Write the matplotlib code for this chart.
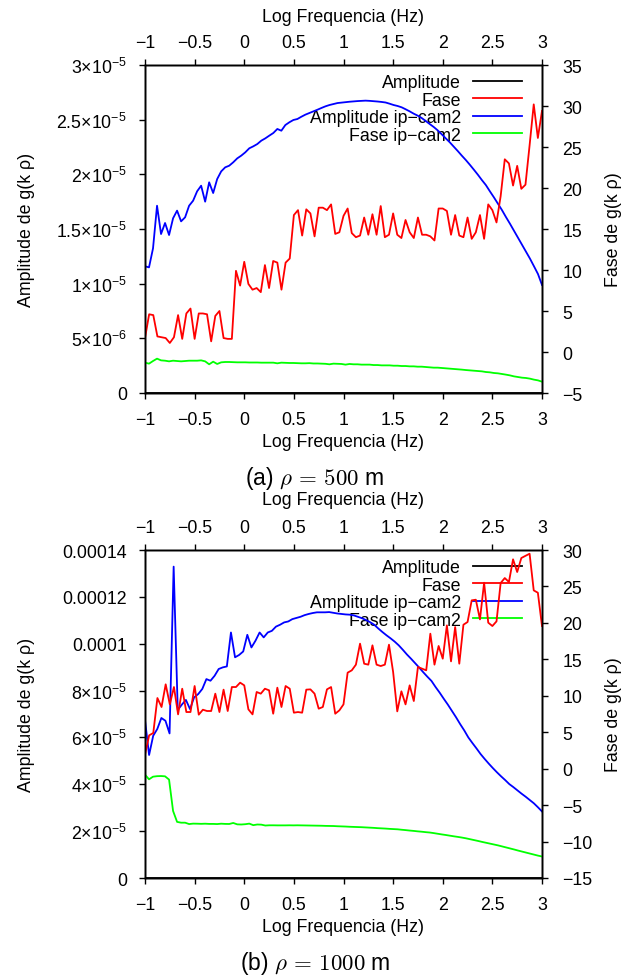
import numpy as np
import matplotlib
matplotlib.use("Agg")
import matplotlib.pyplot as plt

plt.rcParams['font.family'] = ['Liberation Sans', 'DejaVu Sans']
plt.rcParams['mathtext.fontset'] = 'custom'
plt.rcParams['mathtext.rm'] = 'Liberation Sans'
plt.rcParams['mathtext.it'] = 'Liberation Sans:italic'
plt.rcParams['mathtext.bf'] = 'Liberation Sans:bold'

# ---------------- data ----------------
# x axis: log10 of frequency, evenly sampled from -1 to 3 for each series
x_min, x_max = -1.0, 3.0

# Panel (a): rho = 500 m
amplitude_a = [0.0, 0.0, 0.0, 0.0, 0.0, 0.0, 0.0, 0.0, 0.0]
fase_a = [1.7, 4.6, 4.5, 1.9, 1.8, 1.7, 1.1, 1.8, 4.5, 1.6, 4.7, 5.3, 1.6, 4.7, 4.7, 4.6,
          1.3, 4.4, 5.0, 1.7, 1.6, 1.6, 9.9, 8.1, 11.0, 8.3, 7.6, 7.8, 7.3, 10.6, 7.8, 11.1,
          10.9, 7.6, 10.9, 11.4, 16.7, 17.3, 14.2, 17.4, 16.9, 14.1, 17.6, 17.6, 17.3, 18.0,
          14.4, 14.6, 16.6,
          17.5, 14.5, 14.0, 14.2, 16.4, 14.3, 16.8, 14.3, 17.8, 14.0, 14.3, 16.9, 14.3, 13.9,
          16.1, 14.6, 13.9, 16.4, 14.3, 14.3, 14.1, 13.6, 17.5, 17.5, 17.2, 14.3, 16.7, 14.2,
          14.0, 16.4, 13.8, 14.6, 16.7, 13.8, 18.0, 17.3, 15.8, 19.0, 23.5, 23.0, 20.3, 22.7,
          19.9, 20.4, 25.2, 30.2, 26.1, 29.4]
amp_ipcam2_a_e5 = [1.159, 1.149, 1.323, 1.713, 1.454, 1.555, 1.445, 1.598, 1.668, 1.570,
                   1.607, 1.713, 1.759, 1.845, 1.896, 1.750, 1.927, 1.829, 1.957, 2.027,
                   2.064, 2.079, 2.110, 2.146, 2.171, 2.201, 2.238, 2.256, 2.277, 2.308,
                   2.329, 2.354, 2.378, 2.415, 2.399, 2.451, 2.476, 2.497, 2.506, 2.527,
                   2.546, 2.561, 2.576, 2.591, 2.607, 2.622, 2.634, 2.643, 2.652, 2.656,
                   2.660, 2.664, 2.667, 2.670, 2.672, 2.674, 2.672, 2.669, 2.666, 2.662,
                   2.657, 2.646, 2.634, 2.625, 2.613, 2.595, 2.576, 2.555, 2.537, 2.515,
                   2.488, 2.460, 2.433, 2.402, 2.366, 2.329, 2.293, 2.253, 2.213, 2.171,
                   2.131, 2.088, 2.043, 1.997, 1.948, 1.902, 1.845, 1.790, 1.732, 1.674,
                   1.610, 1.549, 1.485, 1.421, 1.357, 1.293, 1.229, 1.159, 1.088, 0.988]
fase_ipcam2_a = [-1.30, -1.42, -1.10, -0.81, -1.02, -1.06, -1.14, -1.06, -1.10, -1.14,
                 -1.10, -1.06, -1.06, -1.06, -1.02, -1.14, -1.50, -1.18, -1.46, -1.26,
                 -1.22, -1.22, -1.24, -1.26, -1.26, -1.26, -1.28, -1.28, -1.28, -1.30,
                 -1.30, -1.30, -1.30, -1.38, -1.30, -1.32, -1.34, -1.34, -1.36, -1.38,
                 -1.38, -1.36, -1.40, -1.40, -1.42, -1.44, -1.50, -1.42, -1.44, -1.46,
                 -1.54, -1.46, -1.50, -1.50, -1.54, -1.54, -1.54, -1.59, -1.59, -1.63,
                 -1.63, -1.63, -1.67, -1.67, -1.71, -1.71, -1.75, -1.75, -1.79, -1.79,
                 -1.83, -1.87, -1.91, -1.91, -1.95, -1.99, -2.03, -2.07, -2.11, -2.15,
                 -2.20, -2.24, -2.28, -2.32, -2.36, -2.44, -2.48, -2.56, -2.60, -2.68,
                 -2.76, -2.85, -2.97, -3.05, -3.13, -3.17, -3.25, -3.37, -3.46, -3.62]

# Panel (b): rho = 1000 m
amplitude_b = [0.0, 0.0, 0.0, 0.0, 0.0, 0.0, 0.0, 0.0, 0.0]
fase_b = [1.92, 4.57, 4.89, 9.69, 8.46, 11.57, 8.82, 11.20, 7.45, 10.97,
          7.77, 7.77, 11.34, 7.41, 8.09, 7.91, 7.91, 10.29, 7.77, 10.84,
          7.91, 11.20, 11.20, 11.80, 11.43, 8.14, 7.45, 10.52, 10.29, 10.97,
          10.75, 7.54, 11.11, 8.46, 11.34, 10.97, 7.68, 7.77, 7.68, 10.84,
          10.88, 10.29, 8.23, 8.46, 10.88, 11.20, 7.54, 8.00, 8.82, 13.17,
          13.49, 14.27, 17.15, 14.40, 14.27, 16.92, 14.27, 14.08, 14.27, 17.01,
          13.26, 7.86, 10.61, 8.82, 11.43, 9.28, 13.95, 13.72, 13.49, 18.52,
          14.27, 16.83, 15.09, 19.66, 14.72, 19.43, 14.40, 19.75, 20.12, 23.09,
          23.18, 20.48, 25.51, 20.03, 19.57, 20.21, 25.47, 26.15, 25.61, 28.72,
          26.98, 28.90, 29.20, 29.49, 24.46, 24.14, 19.57]
amp_ipcam2_b_e5 = [6.74, 5.25, 6.07, 6.36, 6.83, 6.71, 6.17, 13.29, 7.17, 7.40,
                   7.60, 7.21, 7.71, 7.85, 8.07, 8.49, 8.42, 8.63, 8.92, 8.99,
                   9.03, 10.48, 9.42, 9.52, 9.67, 10.38, 9.84, 10.13, 10.48, 10.27,
                   10.48, 10.55, 10.73, 10.81, 10.91, 10.95, 11.05, 11.10, 11.15, 11.22,
                   11.27, 11.31, 11.34, 11.34, 11.34, 11.35, 11.32, 11.29, 11.27,
                   11.25, 11.24, 11.21, 11.15, 11.09, 11.01, 10.92, 10.81, 10.65, 10.50,
                   10.36, 10.23, 10.09, 9.93, 9.74, 9.54, 9.36, 9.17, 8.98, 8.78,
                   8.59, 8.41, 8.15, 7.91, 7.65, 7.40, 7.13, 6.86, 6.57, 6.30,
                   6.00, 5.76, 5.53, 5.29, 5.08, 4.88, 4.69, 4.51, 4.34, 4.18,
                   4.01, 3.88, 3.74, 3.60, 3.47, 3.33, 3.19, 3.02, 2.84]
fase_ipcam2_b = [-0.82, -1.46, -1.10, -1.03, -1.01, -1.05, -1.50, -5.80, -7.30, -7.41,
                 -7.41, -7.60, -7.54, -7.55, -7.57, -7.55, -7.58, -7.58, -7.60, -7.55,
                 -7.58, -7.59, -7.45, -7.64, -7.66, -7.62, -7.54, -7.75, -7.66, -7.68,
                 -7.80, -7.77, -7.77, -7.78, -7.78, -7.78, -7.77, -7.78, -7.77, -7.78,
                 -7.79, -7.80, -7.81, -7.82, -7.83, -7.85, -7.86, -7.87, -7.90, -7.92,
                 -7.94, -7.97, -7.99, -8.01, -8.03, -8.06, -8.09, -8.12, -8.16, -8.19,
                 -8.22, -8.26, -8.29, -8.32, -8.38, -8.43, -8.49, -8.54, -8.60, -8.65,
                 -8.71, -8.76, -8.84, -8.93, -9.02, -9.10, -9.19, -9.28, -9.36, -9.45,
                 -9.55, -9.67, -9.79, -9.91, -10.04, -10.16, -10.28, -10.40, -10.52, -10.66,
                 -10.80, -10.94, -11.08, -11.23, -11.37, -11.51, -11.65, -11.79, -11.93, -12.05]

# ticks / labels
x_ticks = [-1, -0.5, 0, 0.5, 1, 1.5, 2, 2.5, 3]
x_tick_labels = ['\u22121', '\u22120.5', '0', '0.5', '1', '1.5', '2', '2.5', '3']

amp_ticks_a = [0, 5e-6, 1e-5, 1.5e-5, 2e-5, 2.5e-5, 3e-5]
amp_labels_a = ['0', r'$5{\times}10^{-6}$', r'$1{\times}10^{-5}$', r'$1.5{\times}10^{-5}$',
                r'$2{\times}10^{-5}$', r'$2.5{\times}10^{-5}$', r'$3{\times}10^{-5}$']
phase_ticks_a = [-5, 0, 5, 10, 15, 20, 25, 30, 35]
phase_labels_a = ['\u22125', '0', '5', '10', '15', '20', '25', '30', '35']

amp_ticks_b = [0, 2e-5, 4e-5, 6e-5, 8e-5, 1e-4, 1.2e-4, 1.4e-4]
amp_labels_b = ['0', r'$2{\times}10^{-5}$', r'$4{\times}10^{-5}$', r'$6{\times}10^{-5}$',
                r'$8{\times}10^{-5}$', '0.0001', '0.00012', '0.00014']
phase_ticks_b = [-15, -10, -5, 0, 5, 10, 15, 20, 25, 30]
phase_labels_b = ['\u221215', '\u221210', '\u22125', '0', '5', '10', '15', '20', '25', '30']

legend_labels = ['Amplitude', 'Fase', 'Amplitude ip\u2212cam2', 'Fase ip\u2212cam2']
colors = ['#000000', '#ff0000', '#0000ff', '#00ff00']

# ---------------- figure ----------------
W, H = 630, 979
fig = plt.figure(figsize=(W / 100, H / 100), dpi=100)
FS = 12.8
LW = 1.3


def xs(series):
    return np.linspace(x_min, x_max, len(series))


def panel(top_px, amp, fase, amp2_e5, fase2, amp_ticks, amp_labels, ph_ticks, ph_labels,
          xlabel_top_px, xlabel_bot_px, caption_px, caption):
    left, right, bottom = 145, 542, top_px + 328
    ax = fig.add_axes([left / W, 1 - bottom / H, (right - left) / W, 328 / H])
    ax2 = ax.twinx()
    ax3 = ax.twiny()

    h1, = ax.plot(xs(amp), amp, color=colors[0], lw=LW)
    h3, = ax.plot(xs(amp2_e5), np.array(amp2_e5) * 1e-5, color=colors[2], lw=LW)
    h2, = ax2.plot(xs(fase), fase, color=colors[1], lw=LW)
    h4, = ax2.plot(xs(fase2), fase2, color=colors[3], lw=LW)

    ax.set_xlim(x_min, x_max)
    ax3.set_xlim(x_min, x_max)
    ax.set_ylim(amp_ticks[0], amp_ticks[-1])
    ax2.set_ylim(ph_ticks[0], ph_ticks[-1])

    ax.set_xticks(x_ticks)
    ax.set_xticklabels(x_tick_labels)
    ax3.set_xticks(x_ticks)
    ax3.set_xticklabels(x_tick_labels)
    ax.set_yticks(amp_ticks)
    ax.set_yticklabels(amp_labels)
    ax2.set_yticks(ph_ticks)
    ax2.set_yticklabels(ph_labels)

    for a in (ax, ax2, ax3):
        for s in a.spines.values():
            s.set_linewidth(1.0)
    ax.tick_params(axis='x', direction='out', length=4, width=1, labelsize=FS, pad=9)
    ax3.tick_params(axis='x', direction='out', length=4, width=1, labelsize=FS, pad=6)
    ax.tick_params(axis='y', direction='out', length=4, width=1, labelsize=FS, pad=9)
    ax2.tick_params(axis='y', direction='out', length=4, width=1, labelsize=FS, pad=10.5)

    leg = ax.legend([h1, h2, h3, h4], legend_labels, loc='upper right',
                    bbox_to_anchor=(1 - 20 / 397, 1 - 9 / 328), frameon=False,
                    markerfirst=False, fontsize=FS, handlelength=2.75,
                    handletextpad=0.67, labelspacing=0.03, borderpad=0,
                    borderaxespad=0)
    leg.set_zorder(1)

    cx = (left + right) / 2 / W
    fig.text(cx, 1 - xlabel_top_px / H, 'Log Frequencia (Hz)', ha='center', va='center', fontsize=FS)
    fig.text(cx, 1 - xlabel_bot_px / H, 'Log Frequencia (Hz)', ha='center', va='center', fontsize=FS)
    cy = 1 - (top_px + 164) / H
    fig.text(27 / W, cy, 'Amplitude de g(k \u03c1)', rotation=90, ha='center', va='center', fontsize=FS)
    fig.text(614 / W, cy, 'Fase de g(k \u03c1)', rotation=90, ha='center', va='center', fontsize=FS)
    fig.text(0.5, 1 - caption_px / H, caption, ha='center', va='center', fontsize=16.5,
             math_fontfamily='cm')


panel(66, amplitude_a, fase_a, amp_ipcam2_a_e5, fase_ipcam2_a, amp_ticks_a, amp_labels_a,
      phase_ticks_a, phase_labels_a, 17, 443, 479, r'(a) $\rho\,=\,500$ m')
panel(551, amplitude_b, fase_b, amp_ipcam2_b_e5, fase_ipcam2_b, amp_ticks_b, amp_labels_b,
      phase_ticks_b, phase_labels_b, 501, 928, 964, r'(b) $\rho\,=\,1000$ m')

fig.savefig('out.png', dpi=100)
